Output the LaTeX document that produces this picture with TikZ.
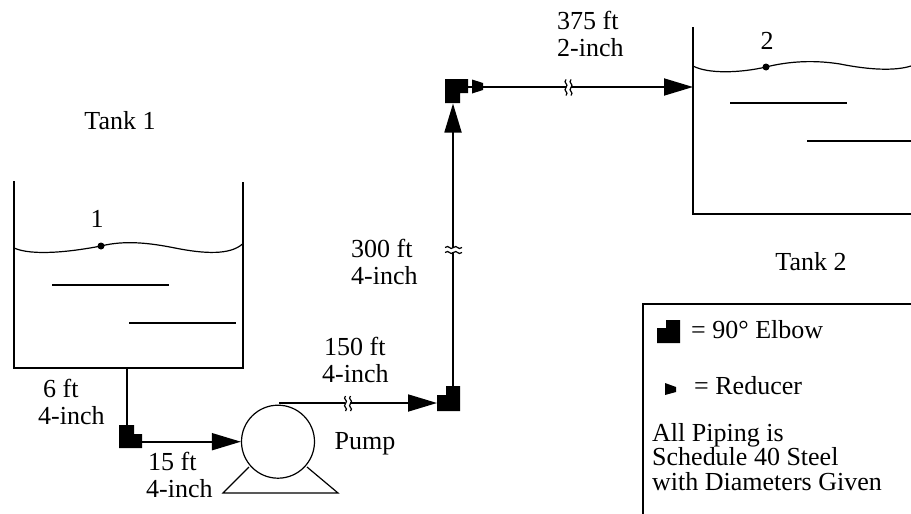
\documentclass[tikz,border=0pt]{standalone}
\usepackage{fontspec}
\setmainfont{Liberation Serif}
\usetikzlibrary{arrows.meta}
\tikzset{
  x=1pt,y=-1pt,
  label/.style={font=\fontsize{26}{27.5}\selectfont,align=left,inner sep=0pt},
  legendtext/.style={font=\fontsize{26}{24.5}\selectfont,align=left,inner sep=0pt},
  pipe/.style={line width=1.8pt},
  flow/.style={pipe,-{Triangle[length=29pt,width=17pt]}},
  wall/.style={line width=2pt,line cap=rect},
  baffle/.style={line width=2pt},
  part/.style={fill=black,draw=none},
  brk/.style={line width=1.2pt},
  thin/.style={line width=1.2pt}
}
\begin{document}
\begin{tikzpicture}
\useasboundingbox (0,0) rectangle (911,514);
% tank 1
\draw[wall] (14,182) -- (14,368) -- (242.5,368) -- (242.5,183);
\draw[thin] (14,248) .. controls (32,256) and (70,252) .. (101,246) .. controls (125,240) and (150,243) .. (175,248) .. controls (205,254) and (230,255) .. (242.5,244);
\fill (101,246) circle (3.5);
\draw[baffle] (52,285) -- (169,285);
\draw[baffle] (129,323) -- (236,323);
\node[label] (n1) at (97,219) {1};
\node[label] (t1) at (120,121) {Tank 1};
% tank 2
\draw[wall] (693,28) -- (693,214) -- (911,214);
\draw[thin] (693,66) .. controls (708,74) and (740,73) .. (766,67) .. controls (790,61) and (815,60) .. (840,64) .. controls (870,70) and (895,71) .. (911,66);
\fill (766,67) circle (3.5);
\draw[baffle] (730,103) -- (847,103);
\draw[baffle] (807,141) -- (911,141);
\node[label] (n2) at (767,41) {2};
\node[label] (t2) at (811,262) {Tank 2};
% pump
\node[circle,draw,line width=1.2pt,minimum size=73pt,inner sep=0pt] (pump) at (278,441.7) {};
\coordinate (baseL) at (223,493);
\coordinate (baseR) at (338,493);
\draw[thin] (249,467) -- (baseL) -- (baseR) -- (307,467);
\node[label] (pl) at (365,444) {Pump};
% junctions
\coordinate (tankout) at (127,368);
\coordinate (e1) at (127,434);
\coordinate (e1r) at (142,441.7);
\coordinate (pumpout) at (279,403);
\coordinate (e2l) at (437,403);
\coordinate (e2) at (453,395);
\coordinate (e3b) at (453,103.5);
\coordinate (e3r) at (468,87);
\coordinate (tank2in) at (693,87);
% elbows
\fill[part] (119,425) -- (134,425) -- (134,434) -- (142,434) -- (142,448) -- (119,448) -- cycle;
\fill[part] (446,386) -- (460,386) -- (460,411) -- (437,411) -- (437,395) -- (446,395) -- cycle;
\fill[part] (445,79) -- (468,79) -- (468,93) -- (460,93) -- (460,103) -- (445,103) -- cycle;
% reducer
\fill[part] (472,79.5) -- (483,83) -- (483,90) -- (472,93.5) -- cycle;
% pipes
\draw[pipe] (tankout) -- (e1);
\draw[flow] (e1r) -- (pump.west);
\draw[flow] (pumpout) -- (e2l);
\draw[flow] (e2) -- (e3b);
\draw[flow] (e3r) -- (tank2in);
% breaks
\fill[white] (345,396) rectangle (350,410);
\draw[brk] (345.5,396) .. controls (342,399.5) and (349,400) .. (345.5,403.5) .. controls (342,407) and (349,408) .. (345.5,411);
\draw[brk] (350.5,396) .. controls (347,399.5) and (354,400) .. (350.5,403.5) .. controls (347,407) and (354,408) .. (350.5,411);
\fill[white] (566,80) rectangle (571,95);
\draw[brk] (566,79.5) .. controls (562.5,83) and (569.5,84) .. (566,87.5) .. controls (562.5,91) and (569.5,92) .. (566,95.5);
\draw[brk] (571,79.5) .. controls (567.5,83) and (574.5,84) .. (571,87.5) .. controls (567.5,91) and (574.5,92) .. (571,95.5);
\fill[white] (447,247.5) rectangle (459,251.5);
\draw[brk] (445,247.5) .. controls (449,244) and (450,251) .. (453.5,247.5) .. controls (457,244) and (458,251) .. (462,247.5);
\draw[brk] (445,252.5) .. controls (449,249) and (450,256) .. (453.5,252.5) .. controls (457,249) and (458,256) .. (462,252.5);
% pipe labels
\node[label,anchor=west] (l6) at (38,402) {\hspace{5pt}6 ft\\4-inch};
\node[label,anchor=west] (l15) at (146,475) {\hspace{2pt}15 ft\\4-inch};
\node[label,anchor=west] (l150) at (322,360) {\hspace{2pt}150 ft\\4-inch};
\node[label,anchor=west] (l300) at (351,262) {300 ft\\4-inch};
\node[label,anchor=west] (l375) at (557,34) {375 ft\\2-inch};
% legend
\node[draw,line width=2pt,minimum width=280pt,minimum height=220pt,anchor=north west] (legend) at (642,303) {};
\fill[part] (666,320) -- (680,320) -- (680,343) -- (657,343) -- (657,328) -- (666,328) -- cycle;
\fill[part] (665,383) -- (676,387) -- (676,392) -- (665,395) -- cycle;
\node[legendtext,anchor=west] (le1) at (691,330) {= 90° Elbow};
\node[legendtext,anchor=west] (le2) at (694,386) {= Reducer};
\node[legendtext,anchor=north west] (le3) at (652,423) {All Piping is\\Schedule 40 Steel\\with Diameters Given};
\end{tikzpicture}
\end{document}
